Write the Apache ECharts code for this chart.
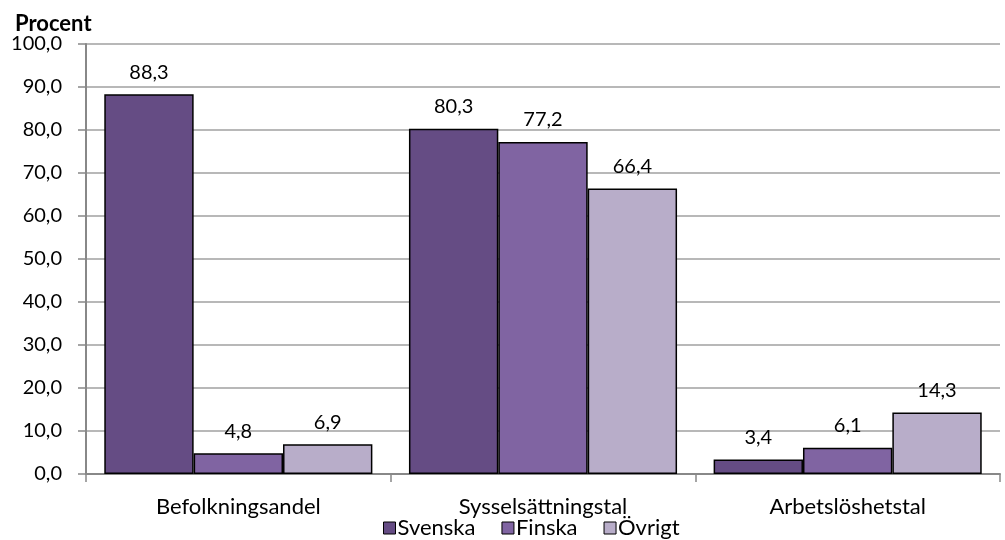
<!DOCTYPE html>
<html><head><meta charset="utf-8">
<script src="https://cdn.jsdelivr.net/npm/echarts@6/dist/echarts.min.js"></script>
<style>html,body{margin:0;padding:0;background:#fff}#c{width:1005px;height:540px}</style>
</head><body><div id="c"></div>
<script>
const categories = ['Befolkningsandel', 'Sysselsättningstal', 'Arbetslöshetstal'];
const svenska = [88.3, 80.3, 3.4];
const finska = [4.8, 77.2, 6.1];
const ovrigt = [6.9, 66.4, 14.3];
const seriesNames = ['Svenska', 'Finska', 'Övrigt'];
const colors = ['#654c84', '#8064a2', '#b8adc9'];
const FONT = 'Lato, "Open Sans", sans-serif';
const fmt = v => v.toFixed(1).replace('.', ',');
const chart = echarts.init(document.getElementById('c'), null, {renderer: 'canvas'});
const mk = (name, data, i) => ({
  name, type: 'bar', data,
  barGap: '0%', barCategoryGap: '12%',
  itemStyle: {color: colors[i], borderColor: '#000', borderWidth: 1.5},
  label: {show: true, position: 'top', distance: 12, fontFamily: FONT, fontSize: 20, color: '#000',
    formatter: p => fmt(p.value)}
});
chart.setOption({
  animation: false,
  textStyle: {fontFamily: FONT},
  grid: {left: 86, right: 5, top: 44, bottom: 66, containLabel: false},
  title: {text: 'Procent', left: 10, top: 8, textStyle: {fontFamily: FONT, fontSize: 22, fontWeight: 'bold', color: '#000'}},
  legend: {
    data: seriesNames, top: 512, left: 378, itemWidth: 12, itemHeight: 12, itemGap: 26,
    icon: 'rect', textStyle: {fontFamily: FONT, fontSize: 22, color: '#000', padding: [0,0,0,-3]},
    itemStyle: {borderColor: '#000', borderWidth: 1}
  },
  xAxis: {
    type: 'category', data: categories,
    axisLine: {lineStyle: {color: '#888', width: 2}},
    axisTick: {show: true, length: 8, lineStyle: {color: '#888', width: 1.5}},
    axisLabel: {fontFamily: FONT, fontSize: 22, color: '#000', margin: 22}
  },
  yAxis: {
    type: 'value', min: 0, max: 100, interval: 10,
    axisLine: {show: true, lineStyle: {color: '#888', width: 2}},
    axisTick: {show: true, length: 8, lineStyle: {color: '#888', width: 1.5}},
    splitLine: {lineStyle: {color: '#a0a0a0', width: 1.5}},
    axisLabel: {fontFamily: FONT, fontSize: 20, color: '#000', margin: 24, formatter: v => fmt(v)}
  },
  series: [mk('Svenska', svenska, 0), mk('Finska', finska, 1), mk('Övrigt', ovrigt, 2)]
});
</script></body></html>
